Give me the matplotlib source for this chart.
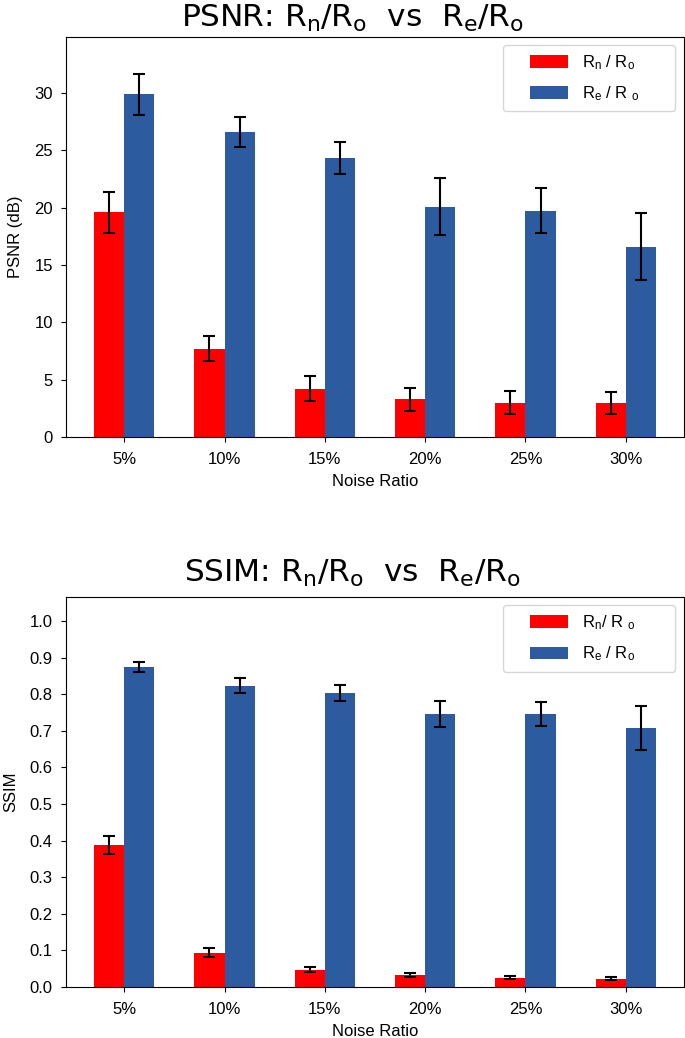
import numpy as np
import matplotlib
matplotlib.use('Agg')
import matplotlib.pyplot as plt
from matplotlib.patches import Rectangle
from matplotlib.container import BarContainer
from matplotlib.legend_handler import HandlerPatch, update_from_first_child

plt.rcParams['font.family'] = ['Liberation Sans', 'DejaVu Sans']
plt.rcParams['mathtext.fontset'] = 'custom'
plt.rcParams['mathtext.rm'] = 'Liberation Sans'
plt.rcParams['mathtext.it'] = 'Liberation Sans'
plt.rcParams['mathtext.bf'] = 'Liberation Sans:bold'

noise = ['5%', '10%', '15%', '20%', '25%', '30%']

psnr_rn = [19.6, 7.7, 4.2, 3.3, 3.0, 2.97]
psnr_rn_err = [1.8, 1.1, 1.1, 1.0, 1.0, 0.97]
psnr_re = [29.9, 26.6, 24.3, 20.1, 19.75, 16.6]
psnr_re_err = [1.8, 1.3, 1.4, 2.45, 1.95, 2.9]

ssim_rn = [0.388, 0.094, 0.047, 0.033, 0.026, 0.023]
ssim_rn_err = [0.025, 0.012, 0.007, 0.006, 0.005, 0.005]
ssim_re = [0.875, 0.824, 0.804, 0.746, 0.746, 0.709]
ssim_re_err = [0.014, 0.02, 0.022, 0.035, 0.032, 0.06]

RED = '#ff0000'
BLUE = '#2c5ba0'


def swatch(legend, orig_handle, xdescent, ydescent, width, height, fontsize):
    # legend patch drawn only on the right part of the handle box
    w, h = 27.5, 8.8
    return Rectangle((-xdescent + width - w, -ydescent + (height - h) / 2), w, h)


def bars(ax, rn, rn_err, re, re_err, labels, ylabel, title, ylim, yticks,
         tpad, leg_top):
    x = np.arange(len(noise))
    w = 0.3
    ekw = dict(elinewidth=1.5, capthick=1.5, ecolor='black')
    ax.bar(x - w / 2, rn, w, yerr=rn_err, color=RED, label=labels[0],
           capsize=4, error_kw=ekw)
    ax.bar(x + w / 2, re, w, yerr=re_err, color=BLUE, label=labels[1],
           capsize=4, error_kw=ekw)
    ax.set_xticks(x)
    ax.set_xticklabels(noise)
    ax.set_ylim(*ylim)
    ax.set_yticks(yticks)
    ax.tick_params(labelsize=12)
    ax.tick_params(axis='x', pad=7)
    ax.tick_params(axis='y', pad=6)
    ax.set_xlabel('Noise Ratio', fontsize=12, labelpad=5)
    ax.set_ylabel(ylabel, fontsize=12, labelpad=8)
    ax.set_title(title, fontsize=22.5, pad=tpad, x=0.463,
                 fontfamily='DejaVu Sans', math_fontfamily='dejavusans')
    handler = HandlerPatch(patch_func=swatch, update_func=update_from_first_child)
    ax.legend(loc='upper right', mode='expand',
              bbox_to_anchor=(0.707, 0.0, 0.2784, leg_top), borderaxespad=0,
              fontsize=12, labelspacing=0.75,
              handlelength=3.4, handleheight=0.8, handletextpad=0.85,
              borderpad=0.5, handler_map={BarContainer: handler})


fig = plt.figure(figsize=(6.85, 10.38), dpi=100)
ax1 = fig.add_axes([0.0964, 0.579, 0.9021, 0.3855])
ax2 = fig.add_axes([0.0964, 0.0491, 0.9021, 0.3758])

bars(ax1, psnr_rn, psnr_rn_err, psnr_re, psnr_re_err,
     ['R$_n$ / R$_o$', 'R$_e$ / R $_o$'], 'PSNR (dB)',
     r'PSNR: R$_\mathrm{n}$/R$_\mathrm{o}$  vs  R$_\mathrm{e}$/R$_\mathrm{o}$',
     (0, 34.9), np.arange(0, 31, 5), 7, 0.98)
bars(ax2, ssim_rn, ssim_rn_err, ssim_re, ssim_re_err,
     ['R$_n$/ R $_o$', 'R$_e$ / R$_o$'], 'SSIM',
     r'SSIM: R$_\mathrm{n}$/R$_\mathrm{o}$  vs  R$_\mathrm{e}$/R$_\mathrm{o}$',
     (0, 1.066), np.round(np.arange(0, 1.01, 0.1), 1), 11, 0.9795)

fig.savefig('out.png', dpi=100)
plt.close(fig)
